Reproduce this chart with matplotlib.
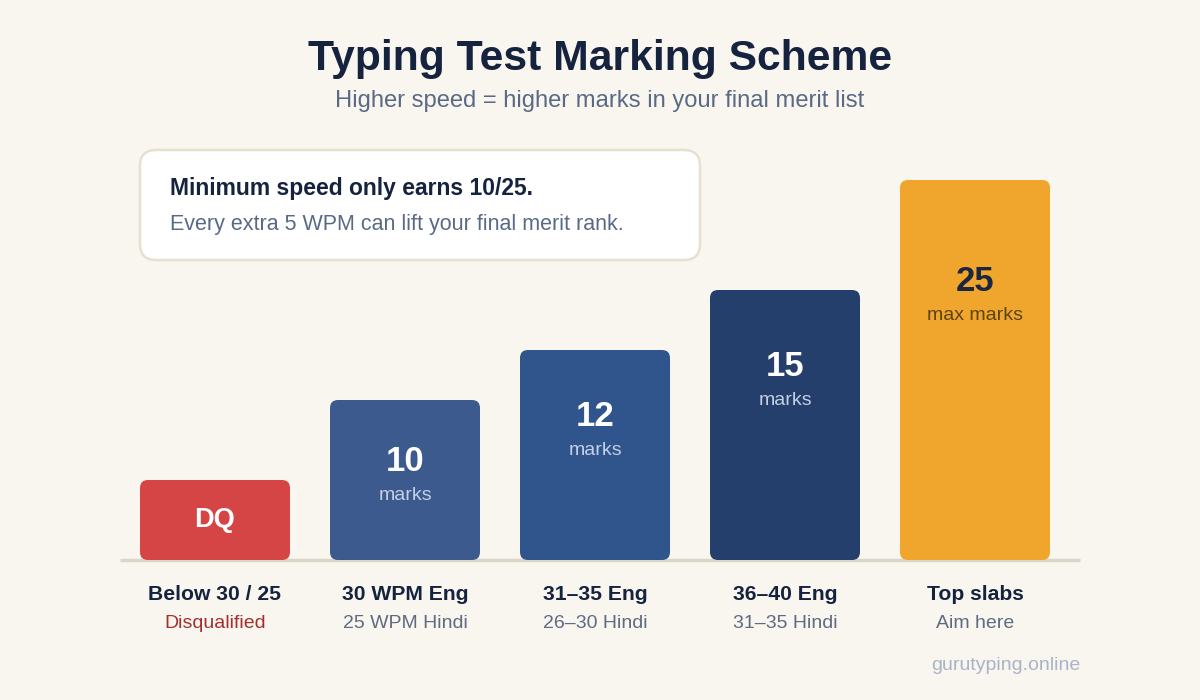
import matplotlib.pyplot as plt
from matplotlib.patches import FancyBboxPatch

plt.rcParams["font.family"] = ["Liberation Sans", "DejaVu Sans"]

# data
slabs = ["Below 30 / 25", "30 WPM Eng", "31\u201335 Eng", "36\u201340 Eng", "Top slabs"]
sub_labels = ["Disqualified", "25 WPM Hindi", "26\u201330 Hindi", "31\u201335 Hindi", "Aim here"]
marks_text = ["DQ", "10", "12", "15", "25"]
unit_text = ["", "marks", "marks", "marks", "max marks"]
bar_heights = [80, 160, 210, 270, 380]  # drawn height of each bar (display units)

# styles
bar_colors = ["#d64545", "#3d5a8e", "#30548c", "#243f6b", "#f0a52c"]
num_colors = ["white", "white", "white", "white", "#1b2740"]
unit_colors = ["white", "#c3d0e6", "#c3d0e6", "#c3d0e6", "#5b4414"]
sub_colors = ["#a3302f", "#5f6b80", "#5f6b80", "#5f6b80", "#5f6b80"]
label_drop = [40, 61, 66, 76, 101]
bg = "#f9f6ef"
navy = "#15233f"

W, H = 1200, 700
fig = plt.figure(figsize=(12, 7), dpi=100, facecolor=bg)


def fx(px):
    return px / W


def fy(py):
    return 1 - py / H


# bar axes: baseline at pixel 560, one y unit = one pixel
ax = fig.add_axes([fx(120), fy(560), fx(960), 380 / H])
ax.set_facecolor("none")
ax.set_xlim(-0.5, 4.5 + 10 / 190)
ax.set_ylim(0, 380)
ax.axis("off")

bw = 150 / 190
rad = 8
for i, h in enumerate(bar_heights):
    box = FancyBboxPatch((i - bw / 2, 0), bw, h,
                         boxstyle=f"round,pad=0,rounding_size={rad / 190}",
                         mutation_aspect=190, facecolor=bar_colors[i],
                         edgecolor="none", zorder=3)
    ax.add_patch(box)
    if unit_text[i]:
        ax.text(i, h - label_drop[i], marks_text[i], ha="center", va="center",
                fontsize=25, fontweight="bold", color=num_colors[i], zorder=4)
        ax.text(i, h - label_drop[i] - 34, unit_text[i], ha="center", va="center",
                fontsize=14, color=unit_colors[i], zorder=4)
    else:
        ax.text(i, h - label_drop[i], marks_text[i], ha="center", va="center",
                fontsize=19.5, fontweight="bold", color=num_colors[i], zorder=4)
    ax.text(i, -35, slabs[i], ha="center", va="center", fontsize=15.2,
            fontweight="bold", color=navy, clip_on=False)
    ax.text(i, -64, sub_labels[i], ha="center", va="center", fontsize=14,
            color=sub_colors[i], clip_on=False)

ax.plot([-0.5, 4.5 + 10 / 190], [0, 0], color="#dcd6c8", lw=2.5,
        solid_capstyle="butt", zorder=2, clip_on=False)

# title block
fig.text(0.5, fy(59), "Typing Test Marking Scheme", ha="center", va="center",
         fontsize=30.7, fontweight="bold", color=navy)
fig.text(0.5, fy(101), "Higher speed = higher marks in your final merit list",
         ha="center", va="center", fontsize=17.1, color="#5a6a85")

# callout card
card = FancyBboxPatch((fx(140), fy(260)), fx(560), 110 / H,
                      boxstyle=f"round,pad=0,rounding_size={fx(16)}",
                      mutation_aspect=W / H, transform=fig.transFigure,
                      facecolor="white", edgecolor="#e8e0cf", lw=1.8)
fig.patches.append(card)
fig.text(fx(170), fy(189), "Minimum speed only earns 10/25.", ha="left",
         va="center", fontsize=16.5, fontweight="bold", color=navy)
fig.text(fx(170), fy(224), "Every extra 5 WPM can lift your final merit rank.",
         ha="left", va="center", fontsize=15.5, color="#5a6a85")

fig.text(fx(1080), fy(666), "gurutyping.online", ha="right", va="center",
         fontsize=14, color="#a9b4c8")

fig.savefig("out.png", dpi=100, facecolor=bg)
